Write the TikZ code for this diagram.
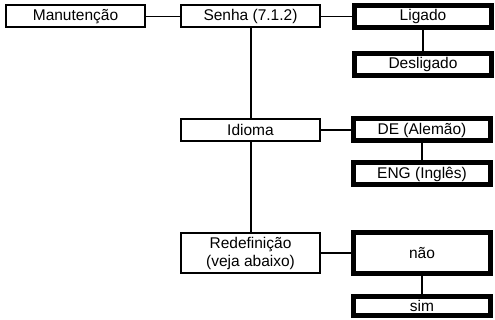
\documentclass[tikz,border=0pt]{standalone}
\usepackage{fontspec}
\setmainfont{Liberation Sans}
\usetikzlibrary{positioning}
\tikzset{
menu/.style={font=\fontsize{15.5}{18}\selectfont,node distance=30pt},
item/.style={rectangle,draw,line width=2pt,minimum width=139pt,
minimum height=22pt,inner sep=1pt,fill=white},
choice/.style={rectangle,draw,line width=5pt,minimum width=137pt,
minimum height=22pt,inner sep=1pt,fill=white},
link/.style={line width=1.2pt},
trunk/.style={line width=2pt},
}

\begin{document}
\begin{tikzpicture}[menu]
                    \useasboundingbox (0,0) rectangle (495pt,-320pt);
                    % main menu column
                    \node[item] (man) at (75.5pt,-16.5pt) {Manutenção};
                    \node[item,right=34pt of man] (senha) {Senha (7.1.2)};
                    \node[item,below=89.5pt of senha] (idioma) {Idioma};
                    \node[item,below=90pt of idioma,minimum height=40pt,
                      align=center] (redef) {Redefinição\\(veja abaixo)};
                    % options
                    \node[choice,right=31pt of senha] (ligado) {Ligado};
                    \node[choice,below=21pt of ligado] (desligado) {Desligado};
                    \node[choice,right=30pt of idioma] (de) {DE (Alemão)};
                    \node[choice,below=17pt of de] (eng) {ENG (Inglês)};
                    \node[choice,right=30pt of redef,minimum height=41pt] (nao) {não};
                    \node[choice,below=18pt of nao,minimum height=19pt] (sim) {sim};

                    \path[link] (man) edge (senha)
                                (senha) edge (ligado)
                                (idioma) edge (de)
                                (redef) edge (nao);
                    \path[trunk] (senha) edge (idioma)
                                 (idioma) edge (redef)
                                 (ligado) edge (desligado)
                                 (de) edge (eng)
                                 (nao) edge (sim);
                \end{tikzpicture}
\end{document}
